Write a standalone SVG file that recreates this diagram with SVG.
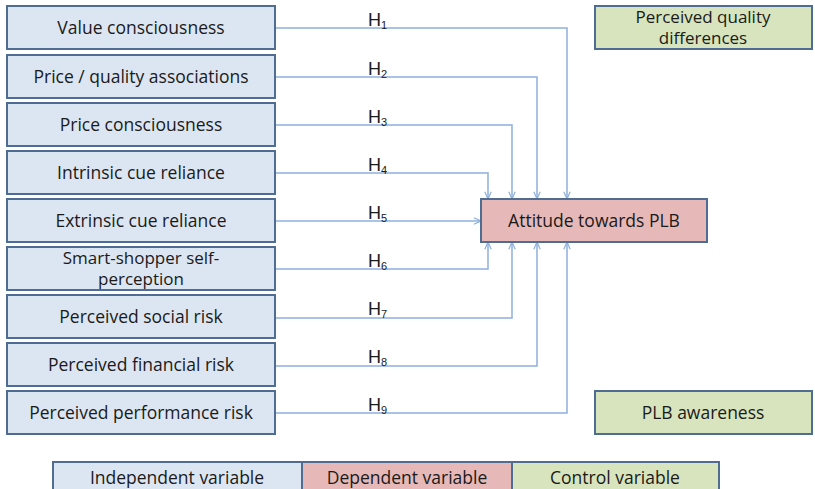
<svg xmlns="http://www.w3.org/2000/svg" width="815" height="489" viewBox="0 0 815 489">
<defs>
<style>
.ind{fill:#dce6f2;stroke:#4f6c92;stroke-width:2}
.dep{fill:#e6b9b8;stroke:#4f6c92;stroke-width:2}
.ctl{fill:#d7e4bd;stroke:#4f6c92;stroke-width:2}
.t{font-family:"Open Sans",Lato,"Liberation Sans",sans-serif;font-size:17.5px;font-weight:500;fill:#1a1a1a;text-anchor:middle}
.t2{font-size:17px}
.h{font-family:"Liberation Sans",Arial,sans-serif;font-size:18px;fill:#1a1a1a}
.s{font-size:11px}
.c{fill:none;stroke:#8eb0dc;stroke-width:1.5}
</style>
<marker id="ah" viewBox="0 0 10 10" refX="10" refY="5" markerWidth="8" markerHeight="8" orient="auto" markerUnits="userSpaceOnUse">
<path d="M1,1 L10,5 L1,9" fill="none" stroke="#8eb0dc" stroke-width="1.5"/>
</marker>
</defs>
<rect width="815" height="489" fill="#ffffff"/>
<g id="connectors">
<path class="c" d="M275,28 H567 V199" marker-end="url(#ah)"/>
<path class="c" d="M275,77 H537 V199" marker-end="url(#ah)"/>
<path class="c" d="M275,125 H512 V199" marker-end="url(#ah)"/>
<path class="c" d="M275,173 H488 V199" marker-end="url(#ah)"/>
<path class="c" d="M275,221 H481" marker-end="url(#ah)"/>
<path class="c" d="M275,269 H488 V242" marker-end="url(#ah)"/>
<path class="c" d="M275,318 H512 V242" marker-end="url(#ah)"/>
<path class="c" d="M275,366 H537 V242" marker-end="url(#ah)"/>
<path class="c" d="M275,413 H567 V242" marker-end="url(#ah)"/>
<text class="h" x="368" y="26">H<tspan class="s" dy="3">1</tspan></text>
<text class="h" x="368" y="75">H<tspan class="s" dy="3">2</tspan></text>
<text class="h" x="368" y="123">H<tspan class="s" dy="3">3</tspan></text>
<text class="h" x="368" y="171">H<tspan class="s" dy="3">4</tspan></text>
<text class="h" x="368" y="219">H<tspan class="s" dy="3">5</tspan></text>
<text class="h" x="368" y="267">H<tspan class="s" dy="3">6</tspan></text>
<text class="h" x="368" y="315">H<tspan class="s" dy="3">7</tspan></text>
<text class="h" x="368" y="363">H<tspan class="s" dy="3">8</tspan></text>
<text class="h" x="368" y="411">H<tspan class="s" dy="3">9</tspan></text>
</g>
<g id="n1"><rect class="ind" x="7" y="6" width="268" height="43"/><text class="t" x="141" y="34">Value consciousness</text></g>
<g id="n2"><rect class="ind" x="7" y="55" width="268" height="43"/><text class="t" x="141" y="83">Price / quality associations</text></g>
<g id="n3"><rect class="ind" x="7" y="103" width="268" height="43"/><text class="t" x="141" y="131">Price consciousness</text></g>
<g id="n4"><rect class="ind" x="7" y="151" width="268" height="43"/><text class="t" x="141" y="179">Intrinsic cue reliance</text></g>
<g id="n5"><rect class="ind" x="7" y="199" width="268" height="43"/><text class="t" x="141" y="227">Extrinsic cue reliance</text></g>
<g id="n6"><rect class="ind" x="7" y="247" width="268" height="43"/><text class="t t2" x="141" y="264">Smart-shopper self-</text><text class="t t2" x="141" y="285">perception</text></g>
<g id="n7"><rect class="ind" x="7" y="295" width="268" height="43"/><text class="t" x="141" y="323">Perceived social risk</text></g>
<g id="n8"><rect class="ind" x="7" y="343" width="268" height="43"/><text class="t" x="141" y="371">Perceived financial risk</text></g>
<g id="n9"><rect class="ind" x="7" y="391" width="268" height="43"/><text class="t" x="141" y="419">Perceived performance risk</text></g>
<g id="target"><rect class="dep" x="481" y="199" width="226" height="43"/><text class="t" x="594" y="227">Attitude towards PLB</text></g>
<g id="c1"><rect class="ctl" x="595" y="6" width="217" height="43"/><text class="t t2" x="703" y="23">Perceived quality</text><text class="t t2" x="703" y="44">differences</text></g>
<g id="c2"><rect class="ctl" x="595" y="391" width="217" height="43"/><text class="t" x="703" y="419">PLB awareness</text></g>
<g id="legend">
<rect class="ind" x="53" y="462" width="249" height="30"/><text class="t" x="177" y="484">Independent variable</text>
<rect class="dep" x="302" y="462" width="210" height="30"/><text class="t" x="407" y="484">Dependent variable</text>
<rect class="ctl" x="512" y="462" width="207" height="30"/><text class="t" x="615" y="484">Control variable</text>
</g>
</svg>
